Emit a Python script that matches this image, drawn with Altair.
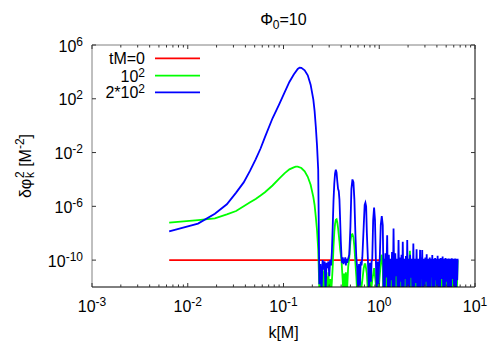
import altair as alt
import pandas as pd

W, H = 383, 242
FONT = "Liberation Sans"
FS, FSS = 16, 12          # main / super-subscript font sizes

# ---------------- data (k in units of M^-1, values given as log10) ----------------
red_k = [0.0064, 6.59]
red_e = [-10.0, -10.0]

blue_k = [0.0064, 0.0128, 0.0192, 0.0256, 0.032, 0.0384, 0.0448, 0.0512, 0.0576, 0.064,
          0.0768, 0.0896, 0.1024, 0.1152, 0.128, 0.1408, 0.1472, 0.1536, 0.1664, 0.1792,
          0.192, 0.2048, 0.2112, 0.2176, 0.224, 0.2304, 0.2368,
          0.2432, 0.2496, 0.256, 0.2624, 0.2688, 0.2752, 0.2816, 0.288, 0.2944, 0.3008,
          0.3072, 0.3136, 0.32, 0.3264, 0.3328, 0.3392, 0.3456, 0.352, 0.3584, 0.3648,
          0.3712, 0.3776, 0.384, 0.3904, 0.3968, 0.4032, 0.4096, 0.416, 0.4224, 0.4288,
          0.4352, 0.4416, 0.448, 0.4544, 0.4608, 0.4736, 0.4864, 0.5, 0.512, 0.5248,
          0.5376, 0.55, 0.5632, 0.576, 0.5888, 0.6016, 0.6144, 0.6272, 0.64, 0.6528,
          0.6656, 0.688, 0.704, 0.7168, 0.7296, 0.7424, 0.7616, 0.7808, 0.8, 0.8192,
          0.832, 0.8448, 0.864, 0.8832, 0.9024, 0.9216, 0.9408, 0.96, 0.9792, 0.9984,
          1.0112, 1.0368, 1.0624, 1.088, 1.1008, 1.108]
blue_e = [-7.87, -7.28, -6.55, -5.85, -4.98, -4.22, -3.35, -2.5, -1.7, -0.85,
          0.55, 1.55, 2.45, 3.25, 3.8, 4.22, 4.32, 4.3, 4.12, 3.75,
          3.05, 1.95, 1.1, -0.1, -1.5, -3.3, -11.8,
          -10.3, -12.4, -10.0, -10.7, -10.1, -12.4, -10.2, -10.6, -10.1, -11.2,
          -10.0, -10.4, -9.4, -7.6, -5.6, -4.3, -3.55, -3.28, -3.5, -4.15,
          -4.7, -4.85, -5.5, -7.0, -8.6, -9.7, -10.2, -9.8, -10.3, -9.9,
          -10.2, -9.8, -10.4, -9.9, -10.2, -9.9, -9.6, -7.5, -4.7, -4.0,
          -4.2, -5.5, -8.0, -9.8, -10.6, -12.4, -10.3, -11.9, -10.1, -10.4,
          -9.8, -7.5, -5.9, -5.73, -6.0, -8.0, -10.0, -12.4, -10.2, -11.6,
          -10.1, -10.0, -7.0, -6.1, -7.0, -10.0, -12.4, -10.1, -11.8, -10.2,
          -10.0, -7.4, -6.72, -7.4, -10.0, -12.5]
# densely oscillating tail: crests and troughs
blue_top_k = [1.12, 1.16, 1.21, 1.26, 1.31, 1.36, 1.41, 1.47, 1.53, 1.59,
              1.65, 1.71, 1.76, 1.83, 1.90, 1.96, 2.03, 2.10, 2.18, 2.27,
              2.36, 2.455, 2.55, 2.67, 2.74, 2.81, 2.92, 3.03, 3.13, 3.25,
              3.37, 3.48, 3.58, 3.70, 3.83, 3.95, 4.07, 4.22, 4.38, 4.59,
              4.75, 4.92, 5.10, 5.30, 5.50, 5.72, 5.95, 6.20, 6.45, 6.59]
blue_top_e = [-9.9, -9.5, -8.15, -9.6, -9.9, -9.4, -7.65, -9.5, -9.9, -8.5,
              -9.8, -9.6, -8.64, -9.9, -9.7, -8.5, -9.9, -9.6, -9.9, -8.77,
              -9.9, -9.19, -9.9, -9.24, -9.8, -9.24, -9.9, -9.8, -9.56, -9.9,
              -9.8, -9.9, -9.63, -9.9, -9.85, -9.9, -9.68, -9.9, -9.85, -9.73,
              -9.9, -9.85, -9.9, -9.88, -9.9, -9.87, -9.9, -9.88, -9.9, -9.9]
blue_low_k = [1.14, 1.185, 1.235, 1.285, 1.335, 1.385, 1.44, 1.50, 1.56, 1.62,
              1.68, 1.735, 1.795, 1.865, 1.93, 1.995, 2.065, 2.14, 2.225, 2.315,
              2.41, 2.50, 2.61, 2.705, 2.775, 2.865, 2.975, 3.08, 3.19, 3.31,
              3.425, 3.53, 3.64, 3.765, 3.89, 4.01, 4.145, 4.30, 4.485, 4.67,
              4.835, 5.01, 5.20, 5.40, 5.61, 5.835, 6.075, 6.325, 6.52]
blue_low_e = [-12.6, -11.3, -12.6, -12.6, -11.5, -12.6, -12.6, -11.2, -12.6, -12.6,
              -11.6, -12.6, -12.6, -11.4, -12.6, -12.6, -12.6, -11.3, -12.6, -12.6,
              -11.7, -12.6, -12.6, -12.6, -11.4, -12.6, -12.6, -11.6, -12.6, -12.6,
              -12.6, -11.3, -12.6, -12.6, -11.5, -12.6, -12.6, -12.6, -11.4, -12.6,
              -12.6, -11.6, -12.6, -12.6, -12.6, -11.4, -12.6, -12.6, -11.5]

green_k = [0.0064, 0.0128, 0.0192, 0.0256, 0.032, 0.0384, 0.0448, 0.0512, 0.0576, 0.064,
           0.0768, 0.0896, 0.1024, 0.1152, 0.128, 0.1344, 0.1408, 0.1536, 0.1664, 0.1792,
           0.192, 0.2048, 0.2112, 0.2176, 0.224, 0.2304, 0.2368,
           0.2432, 0.2496, 0.256, 0.2624, 0.2688, 0.2752, 0.2816, 0.288, 0.2944, 0.3008,
           0.3072, 0.3136, 0.32, 0.3264, 0.3328, 0.3392, 0.3456, 0.352, 0.3584, 0.3648,
           0.3712, 0.3776, 0.384, 0.3904, 0.3968, 0.4032, 0.4096, 0.416, 0.4224, 0.4288,
           0.4352, 0.448, 0.4608, 0.4736, 0.4864, 0.5, 0.512, 0.5248, 0.5376, 0.55,
           0.5632, 0.576, 0.5888, 0.6016, 0.6144, 0.6272, 0.64, 0.6656, 0.688, 0.704,
           0.7168, 0.7424, 0.7616, 0.8, 0.8192, 0.8448, 0.8832, 0.9216, 0.9408, 0.96,
           0.9792, 1.0112, 1.0496, 1.0624, 1.088, 1.1008]
green_e = [-7.21, -7.02, -6.9, -6.6, -6.35, -6.0, -5.7, -5.45, -5.2, -4.95,
           -4.45, -3.95, -3.55, -3.25, -3.1, -3.05, -3.05, -3.15, -3.4, -3.8,
           -4.4, -5.3, -5.9, -6.8, -7.8, -9.2, -12.2,
           -11.0, -12.5, -10.6, -12.4, -10.8, -12.5, -11.2, -12.5, -10.9, -12.5,
           -11.4, -12.5, -11.6, -10.5, -9.0, -7.9, -7.3, -7.0, -6.96, -7.2,
           -7.6, -8.1, -8.6, -9.2, -9.6, -10.0, -10.8, -11.6, -12.5, -11.0,
           -12.5, -10.9, -12.3, -10.5, -9.8, -8.6, -8.1, -8.07, -8.3, -9.0,
           -10.2, -11.2, -12.5, -10.8, -12.5, -11.0, -12.5, -11.5, -10.6, -10.3,
           -10.3, -11.0, -12.5, -11.2, -12.5, -11.5, -10.6, -11.8, -12.5, -11.0,
           -12.5, -11.2, -9.7, -9.6, -10.5, -12.5]
green_top_k = [1.13, 1.18, 1.25, 1.33, 1.42, 1.50, 1.60, 1.70, 1.80, 1.92,
               2.09, 2.18, 2.32, 2.48, 2.64, 2.82, 3.0, 3.2, 3.4, 3.62,
               3.86, 4.1, 4.36, 4.64, 4.94, 5.26, 5.6, 5.95, 6.3, 6.59]
green_top_e = [-10.2, -9.7, -10.6, -10.4, -10.8, -10.5, -10.7, -10.6, -10.9, -10.6,
               -9.3, -10.8, -10.7, -10.9, -10.6, -10.8, -10.7, -11.0, -10.8, -10.9,
               -10.7, -11.0, -10.8, -10.9, -11.0, -10.8, -11.0, -10.9, -11.0, -10.0]
green_low_k = [1.155, 1.215, 1.29, 1.375, 1.46, 1.55, 1.65, 1.75, 1.86, 2.0,
               2.135, 2.25, 2.40, 2.56, 2.73, 2.91, 3.1, 3.3, 3.51, 3.74,
               3.98, 4.23, 4.5, 4.79, 5.1, 5.43, 5.77, 6.12, 6.45]
green_low_e = [-12.6, -12.4, -12.6, -12.5, -12.6, -12.4, -12.6, -12.5, -12.6, -12.4,
               -12.6, -12.5, -12.6, -12.4, -12.6, -12.5, -12.6, -12.4, -12.6, -12.5,
               -12.6, -12.4, -12.6, -12.5, -12.6, -12.4, -12.6, -12.5, -12.6]

# axes: tick values and their "10^n" labels
x_major = [1e-3, 1e-2, 1e-1, 1.0, 10.0]
x_exp = ["-3", "-2", "-1", "0", "1"]
y_major = [1e-10, 1e-6, 1e-2, 1e2, 1e6]
y_exp = ["-10", "-6", "-2", "2", "6"]
minor_mult = [2, 3, 4, 5, 6, 7, 8, 9]

# legend: (base text, superscript, colour)
legend_base = ["tM=0", "10", "2*10"]
legend_sup = ["", "2", "2"]
legend_colors = ["#ff0000", "#00ff00", "#0000ff"]

# ---------------- helpers ----------------
CW = {"0": .556, "1": .556, "2": .556, "3": .556, "4": .556, "5": .556, "6": .556,
      "7": .556, "8": .556, "9": .556, "-": .333, "=": .584, "*": .389, "t": .278,
      "M": .833, " ": .278, "[": .278, "]": .278, "k": .5, "δ": .556, "φ": .70, "Φ": .78}


def tw(s, size):
    return sum(CW.get(c, .556) for c in s) * size


def interleave(k_main, e_main, k_top, e_top, k_low, e_low):
    ks, es = list(k_main), list(e_main)
    for i in range(len(k_top)):
        ks.append(k_top[i]); es.append(e_top[i])
        if i < len(k_low):
            ks.append(k_low[i]); es.append(e_low[i])
    return pd.DataFrame({"k": ks, "v": [10.0 ** e for e in es], "o": range(len(ks))})


red_df = pd.DataFrame({"k": red_k, "v": [10.0 ** e for e in red_e], "o": range(len(red_k))})
green_df = interleave(green_k, green_e, green_top_k, green_top_e, green_low_k, green_low_e)
blue_df = interleave(blue_k, blue_e, blue_top_k, blue_top_e, blue_low_k, blue_low_e)

xs = alt.Scale(type="log", domain=[1e-3, 10], nice=False)
ys = alt.Scale(type="log", domain=[1e-12, 1e6], nice=False)


def curve(df, color):
    return alt.Chart(df).mark_line(color=color, strokeWidth=1.8, clip=True).encode(
        x=alt.X("k:Q", scale=xs, axis=None), y=alt.Y("v:Q", scale=ys, axis=None), order="o:Q")


one = pd.DataFrame({"a": [0]})


def label(text, x, y, size=FS, align="left", angle=0):
    return alt.Chart(one).mark_text(
        text=text, align=align, baseline="alphabetic", font=FONT, fontSize=size,
        color="#000000", angle=angle).encode(x=alt.value(x), y=alt.value(y))


layers = [curve(red_df, "#ff0000"), curve(green_df, "#00ff00"), curve(blue_df, "#0000ff")]

# frame: left/top grey, bottom/right black
layers += [
    alt.Chart(one).mark_rule(color="#808080", strokeWidth=1).encode(x=alt.value(0), y=alt.value(0), y2=alt.value(H)),
    alt.Chart(one).mark_rule(color="#808080", strokeWidth=1).encode(x=alt.value(0), x2=alt.value(W), y=alt.value(0)),
    alt.Chart(one).mark_rule(color="#000000", strokeWidth=1).encode(x=alt.value(0), x2=alt.value(W), y=alt.value(H)),
    alt.Chart(one).mark_rule(color="#000000", strokeWidth=1).encode(x=alt.value(W), y=alt.value(0), y2=alt.value(H)),
]

# inward, mirrored ticks
TICK = "#333333"
x_minor = [m * d for d in x_major[:-1] for m in minor_mult]
for vals, ln in ((x_major, 4), (x_minor, 2.5)):
    base = alt.Chart(pd.DataFrame({"t": vals})).mark_rule(color=TICK, strokeWidth=1)
    layers.append(base.encode(x=alt.X("t:Q", scale=xs, axis=None), y=alt.value(H), y2=alt.value(H - ln)))
    layers.append(base.encode(x=alt.X("t:Q", scale=xs, axis=None), y=alt.value(0), y2=alt.value(ln)))
ybase = alt.Chart(pd.DataFrame({"t": y_major})).mark_rule(color=TICK, strokeWidth=1)
layers.append(ybase.encode(y=alt.Y("t:Q", scale=ys, axis=None), x=alt.value(0), x2=alt.value(4)))
layers.append(ybase.encode(y=alt.Y("t:Q", scale=ys, axis=None), x=alt.value(W), x2=alt.value(W - 4)))

# x tick labels "10^n", centred on the tick
for v, ex in zip(x_major, x_exp):
    d = pd.DataFrame({"t": [v]})
    total = tw("10", FS) + tw(ex, FSS)
    off = tw("10", FS) - total / 2
    layers.append(alt.Chart(d).mark_text(text="10", align="right", baseline="alphabetic", font=FONT,
                                         fontSize=FS, color="#000000", dx=off)
                  .encode(x=alt.X("t:Q", scale=xs, axis=None), y=alt.value(H + 25)))
    layers.append(alt.Chart(d).mark_text(text=ex, align="left", baseline="alphabetic", font=FONT,
                                         fontSize=FSS, color="#000000", dx=off)
                  .encode(x=alt.X("t:Q", scale=xs, axis=None), y=alt.value(H + 19)))

# y tick labels "10^n", right aligned
YR = -9
for v, ex in zip(y_major, y_exp):
    d = pd.DataFrame({"t": [v]})
    layers.append(alt.Chart(d).mark_text(text=ex, align="right", baseline="alphabetic", font=FONT,
                                         fontSize=FSS, color="#000000", dy=0.5)
                  .encode(y=alt.Y("t:Q", scale=ys, axis=None), x=alt.value(YR)))
    layers.append(alt.Chart(d).mark_text(text="10", align="right", baseline="alphabetic", font=FONT,
                                         fontSize=FS, color="#000000", dy=6.5)
                  .encode(y=alt.Y("t:Q", scale=ys, axis=None), x=alt.value(YR - tw(ex, FSS))))

# x axis title
layers.append(label("k[M]", W / 2, H + 51, align="center"))

# y axis title: δφ_k^2 [M^-2], rotated (text, size, baseline shift, gap before, advance)
parts = [("δφ", FS, 0, 0, tw("δφ", FS)),
         ("k", FSS, 3, 0, 0),
         ("2", FSS, -7, 0, tw("2", FSS)),
         ("[M", FS, 0, tw(" ", FS), tw("[M", FS)),
         ("-2", FSS, -7, 0, tw("-2", FSS)),
         ("]", FS, 0, 0, tw("]", FS))]
total_len = sum(p[3] + p[4] for p in parts)
pos = H / 2 + total_len / 2
XB = -61
for s, size, shift, gap, a in parts:
    pos -= gap
    layers.append(label(s, XB + shift, pos, size=size, align="left", angle=270))
    pos -= a

# plot title: Φ_0=10
t_parts = [("Φ", FS, 0), ("0", FSS, 3.5), ("=10", FS, 0)]
t_total = sum(tw(s, sz) for s, sz, _ in t_parts)
tx = W / 2 - t_total / 2
for s, sz, sh in t_parts:
    layers.append(label(s, tx, -20 + sh, size=sz))
    tx += tw(s, sz)

# legend
legend_rows_y = [13.3, 30.7, 47.3]
LX = 53
for b, sp, col, yy in zip(legend_base, legend_sup, legend_colors, legend_rows_y):
    if sp:
        layers.append(label(sp, LX, yy + 1, size=FSS, align="right"))
        layers.append(label(b, LX - tw(sp, FSS), yy + 6, align="right"))
    else:
        layers.append(label(b, LX, yy + 5.5, align="right"))
    layers.append(alt.Chart(one).mark_rule(color=col, strokeWidth=1.8).encode(
        x=alt.value(63), x2=alt.value(108), y=alt.value(yy)))

chart = alt.layer(*layers).properties(
    width=W, height=H,
    autosize=alt.AutoSizeParams(type="none"),
    padding={"left": 84, "top": 37, "right": 17, "bottom": 62},
).configure_view(stroke=None)

chart.save("out.html", embed_options={"renderer": "svg", "actions": False})
